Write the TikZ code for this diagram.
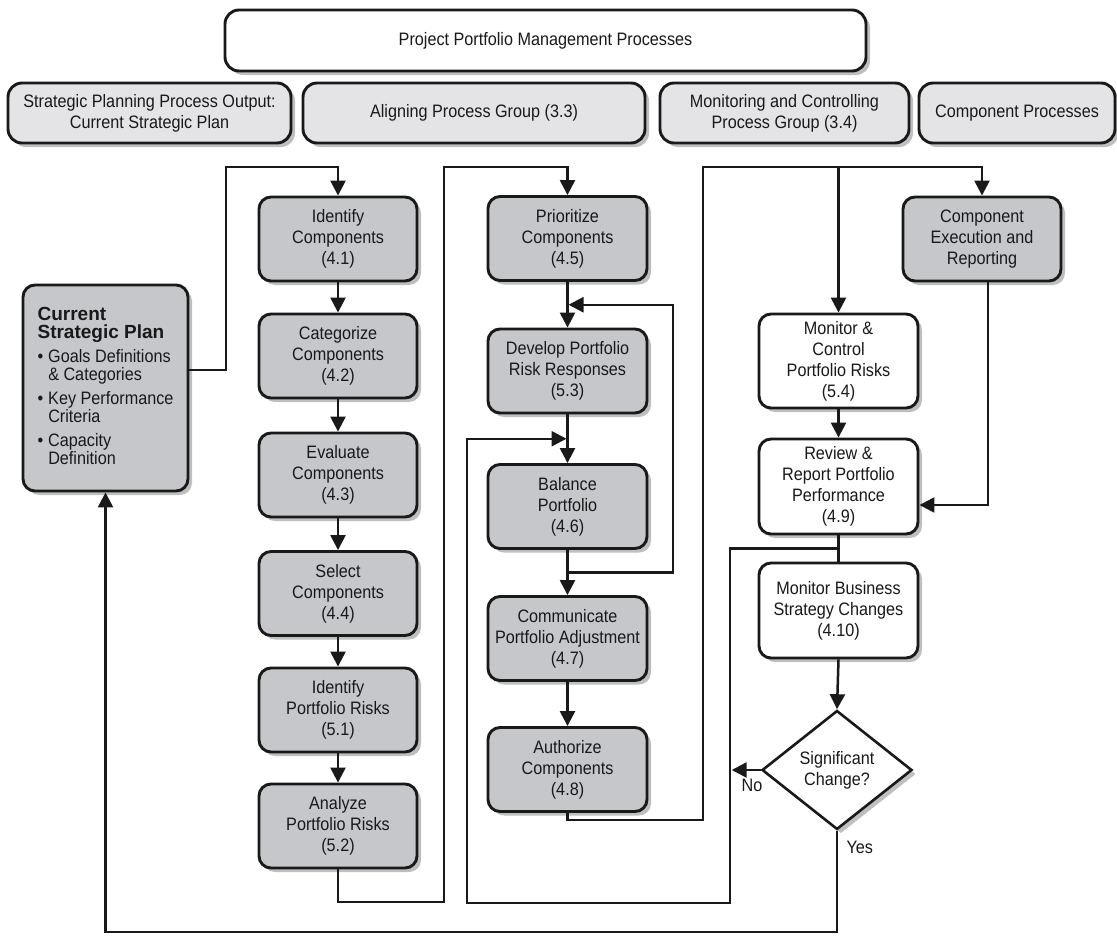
\documentclass[tikz,border=0pt]{standalone}
\usepackage{fontspec}
\setmainfont{Liberation Sans}[FakeStretch=0.9]
\newfontfamily\heavyfont{Liberation Sans}
\usetikzlibrary{arrows.meta,shapes.geometric,shadows,calc}
\definecolor{hdrfill}{RGB}{228,228,230}
\definecolor{procfill}{RGB}{198,199,202}
\definecolor{shadowc}{RGB}{165,165,165}
\definecolor{ink}{RGB}{25,25,25}
\begin{document}
\begin{tikzpicture}[x=1pt,y=-1pt,
  font=\fontsize{18}{21}\selectfont,
  every node/.style={text=ink},
  shadowed/.style={drop shadow={shadow xshift=4pt,shadow yshift=-4pt,fill=shadowc,opacity=0.7}},
  boxbase/.style={draw=ink,line width=2.9pt,rounded corners=12pt,align=center,inner sep=2pt,shadowed},
  hdr/.style={boxbase,fill=hdrfill,minimum height=60pt,rounded corners=14pt},
  proc/.style={boxbase,fill=procfill,minimum width=158pt,minimum height=84pt},
  mon/.style={boxbase,fill=white,minimum width=159pt},
  conn/.style={draw=ink,line width=2.5pt},
  arr/.style={conn,-{Triangle[length=15pt,width=15pt]}},
]
\useasboundingbox[fill=white] (0,0) rectangle (1117,935);

% headers
\node[hdr,fill=white,minimum width=641pt,minimum height=61pt] (ppm) at (545.5,40.5) {Project Portfolio Management Processes};
\node[hdr,minimum width=283pt] (spo) at (149.5,113) {Strategic Planning Process Output:\\Current Strategic Plan};
\node[hdr,minimum width=342pt] (apg) at (474,113) {Aligning Process Group (3.3)};
\node[hdr,minimum width=249pt] (mcg) at (784.5,113) {Monitoring and Controlling\\Process Group (3.4)};
\node[hdr,minimum width=196pt] (cpg) at (1017,113) {Component Processes};

% current strategic plan
\node[proc,minimum width=165pt,minimum height=206pt] (csp) at (105.5,388) {%
\begin{tabular}{@{}l@{\hspace{5pt}}l@{}}
\multicolumn{2}{@{}l@{}}{\heavyfont\bfseries\fontsize{19}{21}\selectfont Current}\\[-3pt]
\multicolumn{2}{@{}l@{}}{\heavyfont\bfseries\fontsize{19}{21}\selectfont Strategic Plan}\\[3pt]
\textbullet & Goals Definitions\\[-3pt]
 & \& Categories\\[3pt]
\textbullet & Key Performance\\[-3pt]
 & Criteria\\[3pt]
\textbullet & Capacity\\[-3pt]
 & Definition
\end{tabular}};

% column 1
\node[proc] (i41) at (338,239) {Identify\\Components\\(4.1)};
\node[proc] (c42) at (338,356) {Categorize\\Components\\(4.2)};
\node[proc] (e43) at (338,475) {Evaluate\\Components\\(4.3)};
\node[proc] (s44) at (338,593.5) {Select\\Components\\(4.4)};
\node[proc] (r51) at (338,710) {Identify\\Portfolio Risks\\(5.1)};
\node[proc] (a52) at (338,826) {Analyze\\Portfolio Risks\\(5.2)};

% column 2
\node[proc,minimum width=159pt] (p45) at (567.5,238.5) {Prioritize\\Components\\(4.5)};
\node[proc,minimum width=159pt] (d53) at (567.5,371) {Develop Portfolio\\Risk Responses\\(5.3)};
\node[proc,minimum width=159pt] (b46) at (567.5,506.5) {Balance\\Portfolio\\(4.6)};
\node[proc,minimum width=159pt] (c47) at (567.5,638.5) {Communicate\\Portfolio Adjustment\\(4.7)};
\node[proc,minimum width=159pt] (a48) at (567.5,769.5) {Authorize\\Components\\(4.8)};

% column 3
\node[mon,minimum height=94pt] (m54) at (838.5,361) {Monitor \&\\Control\\Portfolio Risks\\(5.4)};
\node[mon,minimum height=95pt] (r49) at (838.5,486.5) {Review \&\\Report Portfolio\\Performance\\(4.9)};
\node[mon,minimum height=95pt] (m410) at (838.5,610.5) {Monitor Business\\Strategy Changes\\(4.10)};
\node[diamond,draw=ink,line width=2.6pt,fill=white,shadowed,minimum width=150pt,minimum height=119pt,aspect=1.26,inner sep=0pt,align=center] (dia) at (837,770) {Significant\\Change?};

% component execution
\node[proc] (ce) at (982,239) {Component\\Execution and\\Reporting};

% connectors
\draw[arr] ([yshift=18pt]csp.east) -| (226,167) -| (i41.north);
\foreach \a/\b in {i41/c42,c42/e43,e43/s44,s44/r51,r51/a52,p45/d53,d53/b46,b46/c47,c47/a48}
  \draw[arr] (\a.south) -- (\b.north);
\draw[arr] (a52.south) |- (444,902) -- (444,167) -| (p45.north);

\coordinate (j45) at ($(p45.south)!0.5!(d53.north)$);
\coordinate (j53) at ($(d53.south)!0.5!(b46.north)$);
\coordinate (j46) at ($(b46.south)!0.5!(c47.north)$);
\draw[arr] (j46) -| ($(j45)+(105.5,0)$) -- ([xshift=1pt]j45);

\draw[arr] (a48.south) |- (703,820) -- (703,167) -| (ce.north);
\coordinate (jtop) at (m54.north |- 0,167);
\draw[arr] (jtop) -- (m54.north);
\draw[arr] ([xshift=6pt]ce.south) |- ([yshift=-18.5pt]r49.east);
\draw[arr] (m54.south) -- (r49.north);
\draw[conn] (r49.south) -- (m410.north);
\coordinate (j49) at ($(r49.south)!0.5!(m410.north)$);
\draw[arr] (j49) -| (730,903) -| ($(j53)+(-100.5,0)$) -- ([xshift=-1pt]j53);
\draw[arr] (m410.south) -- (dia.north);
\draw[arr] (dia.west) -- ++(-29,0) node[pos=0.3,below=5pt] {No};
\draw[arr] (dia.south) -- (dia.south |- 0,932) node[pos=0.16,right=5pt] {Yes}
  -- (csp.south |- 0,932) -- (csp.south);
\end{tikzpicture}
\end{document}
